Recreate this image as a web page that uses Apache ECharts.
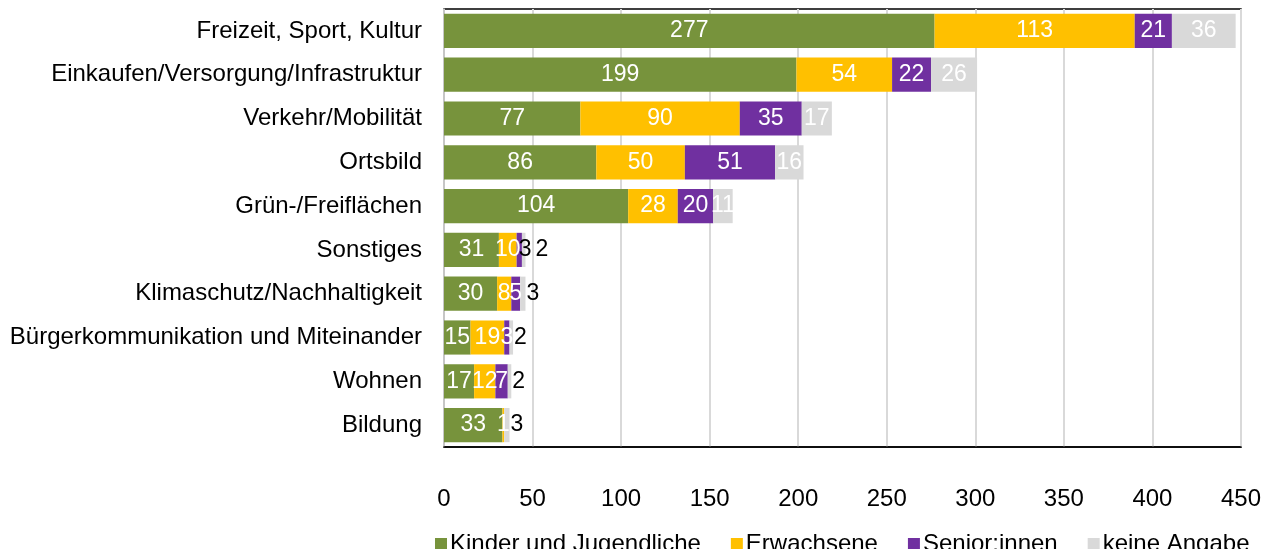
<!DOCTYPE html>
<html>
<head>
<meta charset="utf-8">
<script src="https://cdn.jsdelivr.net/npm/echarts@6/dist/echarts.min.js"></script>
<style>
html,body{margin:0;padding:0;background:#fff;}
#chart{width:1264px;height:549px;}
</style>
</head>
<body>
<div id="chart"></div>
<script>
var categories = ['Freizeit, Sport, Kultur','Einkaufen/Versorgung/Infrastruktur','Verkehr/Mobilität','Ortsbild','Grün-/Freiflächen','Sonstiges','Klimaschutz/Nachhaltigkeit','Bürgerkommunikation und Miteinander','Wohnen','Bildung'];
var kinder = [277,199,77,86,104,31,30,15,17,33];
var erwachsene = [113,54,90,50,28,10,8,19,12,1];
var senioren = [21,22,35,51,20,3,5,3,7,0];
var keineAngabe = [36,26,17,16,11,2,3,2,2,3];
var seriesNames = ['Kinder und Jugendliche','Erwachsene','Senior:innen','keine Angabe'];
var colors = ['#77933C','#FFC000','#7030A0','#D9D9D9'];

var font = '"Liberation Sans", Arial, sans-serif';
var chart = echarts.init(document.getElementById('chart'));

// small segments get a dark label pushed to the right, like the excel export
function buildData(values, idx){
	var out = [];
	for(var i=0;i<values.length;i++){
		var item = {value: values[i]};
		if(values[i] == 0){
			item.label = {show:false};
		}else if(idx == 3 && values[i] < 5){
			item.label = {position:'right', distance:1, color:'#000'};
			if(categories[i] == 'Sonstiges') item.label.distance = 10;
		}else if(idx == 2 && categories[i] == 'Sonstiges'){
			item.label = {color:'#000', offset:[6,0]};
		}
		out.push(item);
	}
	return out;
}

var allValues = [kinder, erwachsene, senioren, keineAngabe];
var series = [];
for(var s=0;s<4;s++){
	series.push({
		name: seriesNames[s],
		type: 'bar',
		stack: 'total',
		barCategoryGap: '22%',
		itemStyle: {color: colors[s]},
		label: {
			show: true,
			position: 'inside',
			color: '#fff',
			fontSize: 23,
			fontFamily: font
		},
		data: buildData(allValues[s], s)
	});
}

var option = {
	animation: false,
	backgroundColor: '#fff',
	legend: {
		data: seriesNames,
		left: 430,
		top: 527,
		icon: 'rect',
		itemWidth: 12,
		itemHeight: 12,
		itemGap: 30,
		textStyle: {fontSize: 24, fontFamily: font, color: '#000', padding:[0,0,0,-2]}
	},
	grid: {
		left: 444,
		right: 22,
		top: 9,
		bottom: 102,
		show: true,
		borderColor: '#000',
		borderWidth: 1.5
	},
	xAxis: {
		type: 'value',
		min: 0,
		max: 450,
		interval: 50,
		axisLine: {show: true, lineStyle: {color: '#000', width: 1.5}},
		axisTick: {show: false},
		splitLine: {show: true, lineStyle: {color: '#D9D9D9', width: 2}},
		axisLabel: {fontSize: 24, fontFamily: font, color: '#000', margin: 40}
	},
	yAxis: {
		type: 'category',
		inverse: true,
		data: categories,
		axisLine: {show: true, lineStyle: {color: '#BFBFBF', width: 1.5}},
		axisTick: {show: false},
		axisLabel: {fontSize: 24, fontFamily: font, color: '#000', margin: 22}
	},
	series: series
};
chart.setOption(option);
</script>
</body>
</html>
